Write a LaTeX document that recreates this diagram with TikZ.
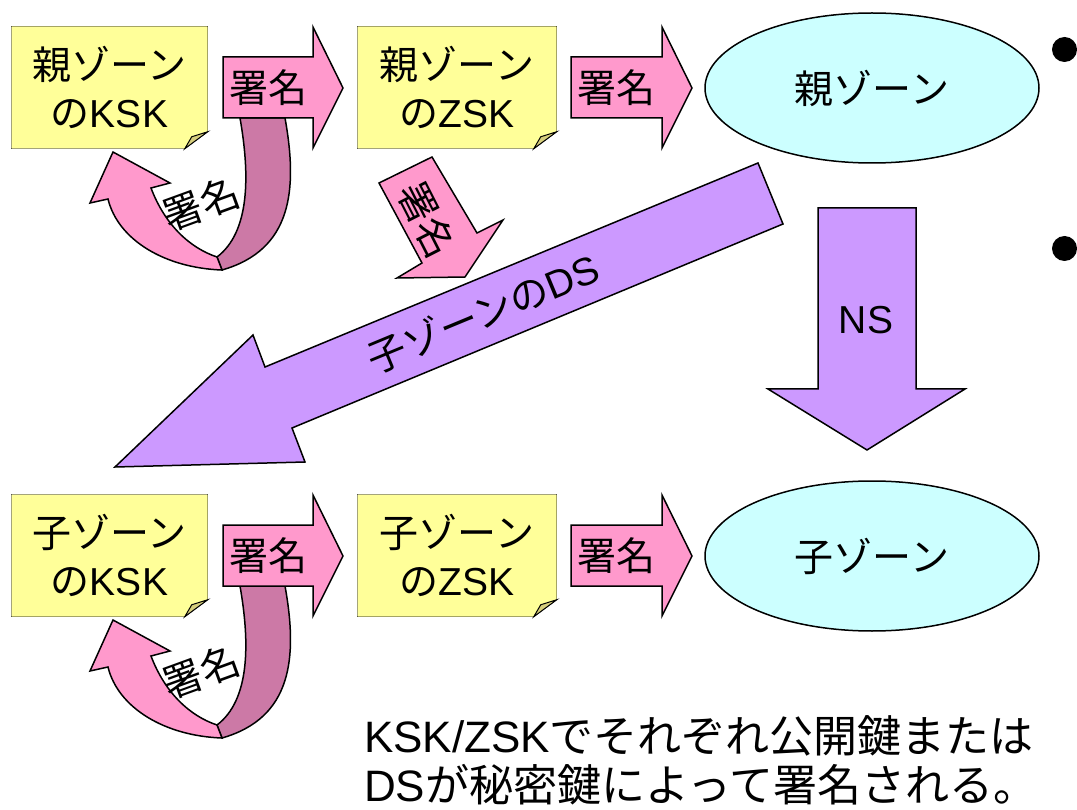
\documentclass[tikz,border=0pt]{standalone}
\usepackage{fontspec}
\setmainfont{Noto Sans CJK JP}
\newfontfamily\latf{Liberation Sans}
\usetikzlibrary{shapes.geometric,backgrounds}
\definecolor{memoyellow}{HTML}{FFFF99}
\definecolor{memofold}{HTML}{D6CE7C}
\definecolor{signpink}{HTML}{FF99CC}
\definecolor{signback}{HTML}{CC79A6}
\definecolor{dspurple}{HTML}{CC99FF}
\definecolor{zonecyan}{HTML}{CCFFFF}

\begin{document}
\begin{tikzpicture}[x=1pt,y=-1pt,line width=1.5pt,
    font=\fontsize{39}{48}\selectfont,
    memo/.style={minimum width=195pt,minimum height=121pt,inner sep=0pt,align=center},
    zone/.style={ellipse,draw,fill=zonecyan,minimum width=334pt,minimum height=150pt},
    pinkshape/.style={draw,fill=signpink},
    backshape/.style={draw,fill=signback},
    purpleshape/.style={draw,fill=dspurple},
    bullet/.style={circle,fill,minimum size=25pt,inner sep=0pt}]
\useasboundingbox (0,0) rectangle (1077,810);

% one row per zone: parent (top) and child (bottom)
\foreach \dy/\who/\r in {0/親/p,468/子/c}{
  \begin{scope}[shift={(0,\dy)}]
    % KSK signs itself
    \draw[backshape] (240,118) -- (285,118) .. controls (298,190) and (292,250) .. (222,270)
        -- (217,257) .. controls (250,232) and (250,175) .. (240,118) -- cycle;
    \draw[pinkshape] (222,270) .. controls (165,268) and (118,240) .. (108,199) -- (90,203)
        -- (113,152) -- (170,183) -- (151,188) .. controls (165,225) and (190,248) .. (217,257) -- cycle;
    \node[rotate=20] (\r-selfsign) at (201,204) {署名};
    % keys
    \node[memo] (\r-ksk) at (109.5,87.5) {\who ゾーン\\の{\latf KSK}};
    \node[memo,minimum width=198pt] (\r-zsk) at (457,87.5) {\who ゾーン\\の{\latf ZSK}};
    \begin{scope}[on background layer]
      \foreach \k in {ksk,zsk}{
        \draw[fill=memoyellow] (\r-\k.north west) -- (\r-\k.north east) -- ([yshift=17pt]\r-\k.south east)
            -- ([xshift=-23pt]\r-\k.south east) -- (\r-\k.south west) -- cycle;
        \draw[fill=memofold,line width=1pt] ([yshift=17pt]\r-\k.south east) -- ([xshift=-23pt]\r-\k.south east)
            -- ([xshift=-16pt,yshift=12pt]\r-\k.south east) -- cycle;
      }
    \end{scope}
    % signing arrows
    \draw[pinkshape] (223,57) -- (313,57) -- (313,27) -- (343,88) -- (313,148) -- (313,118) -- (223,118) -- cycle;
    \node (\r-sign1) at (268,88) {署名};
    \draw[pinkshape] (571,57) -- (662,57) -- (662,27) -- (692,88) -- (662,148) -- (662,118) -- (571,118) -- cycle;
    \node (\r-sign2) at (616,88) {署名};
    \node[zone] (\r-zone) at (872,88) {\who ゾーン};
  \end{scope}
}

% delegation from parent to child
\draw[purpleshape] (758,163) -- (783,224) -- (292,428) -- (305,462) -- (115,467) -- (253,335) -- (265,367) -- cycle;
\node[rotate=22.5] (ds) at (483,313) {子ゾーンの{\latf DS}};
\draw[pinkshape] (379,183) -- (432,157) -- (477,233) -- (503,220) -- (465,277) -- (397,278) -- (422,263) -- cycle;
\node[rotate=-63] (dssign) at (427,220) {署名};
\draw[purpleshape] (818,208) -- (916,208) -- (916,389) -- (965,389) -- (867,450) -- (768,389) -- (818,389) -- cycle;
\node (ns) at (866,320) {\latf NS};

\node[bullet] (b1) at (1064.5,49.5) {};
\node[bullet] (b2) at (1064.5,248.5) {};

\node[anchor=west,align=left,font=\fontsize{44}{49}\selectfont] (note) at (360,760)
    {{\latf KSK/ZSK}でそれぞれ公開鍵または\\{\latf DS}が秘密鍵によって署名される。};
\end{tikzpicture}
\end{document}
